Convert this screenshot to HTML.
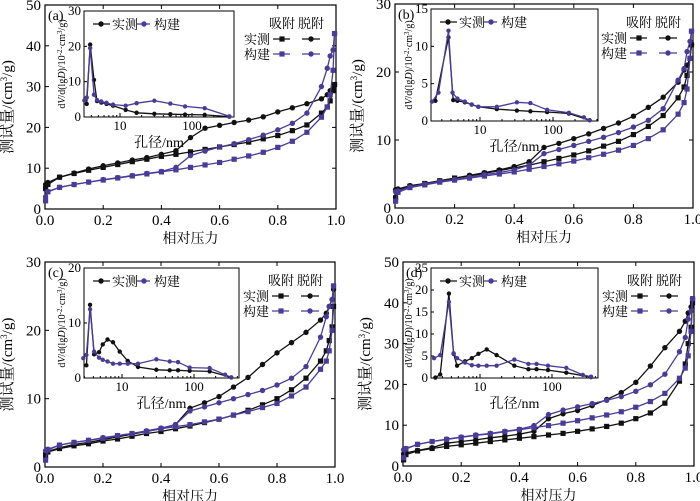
<!DOCTYPE html>
<html><head><meta charset="utf-8"><style>
html,body{margin:0;padding:0;background:#fff;}
svg{display:block;font-family:"Liberation Serif","Noto Serif CJK SC",serif;}
</style></head><body>
<svg id="chart" width="700" height="501" viewBox="0 0 700 501" xmlns="http://www.w3.org/2000/svg"></svg>
<script>
// Relative pressure (shared)
const P = [0.002,0.01,0.05,0.1,0.15,0.2,0.25,0.3,0.35,0.4,0.45,0.5,0.55,0.6,0.65,0.7,0.75,0.8,0.85,0.9,0.95,0.97,0.98,0.99,0.995];
// Panel a
const aMeasAds = [5,6,7.8,8.7,9.5,10.2,10.9,11.6,12.2,12.9,13.4,14,14.6,15.2,15.8,16.4,17.2,18,19.2,20.6,23.5,25,26.5,29,30.5];
const aMeasDes = [6,6.5,7.8,8.8,9.8,10.6,11.3,12,12.6,13.4,14.3,17.5,19.8,20.5,21.2,21.8,22.6,23.8,24.8,25.8,27,28,29,29.5,30.5];
const aConsAds = [2,4.2,5.3,6,6.6,7.1,7.6,8.1,8.6,9.1,9.6,10.2,10.8,11.4,12.2,13,13.9,15.1,16.6,18.8,22.5,25,28,34,43];
const aConsDes = [3,4.3,5.3,6,6.6,7.2,7.7,8.2,8.7,9.2,10.2,13.1,14.2,15.2,16,17,18.1,19.4,21,23.5,30,34.5,37.5,39,43];
const aPsdMeasD = [3.45,3.85,4.35,4.8,5.5,6.5,8,12,17,30,50,80,150,330];
const aPsdMeasV = [3.7,20.5,10.5,4.5,4.1,3.7,3.2,2.0,1.2,0.9,0.8,0.7,0.6,0.1];
const aPsdConsD = [3.2,3.45,3.85,4.35,4.8,5.5,6.5,8,12,17,30,50,80,150,330];
const aPsdConsV = [4.7,5.5,19.5,6.3,4.8,4.4,4.0,3.5,3.2,3.9,4.6,3.8,3.0,2.5,0.2];
// Panel b
const bMeasAds = [1.5,2.6,3.2,3.6,4.0,4.4,4.7,5.1,5.5,5.9,6.3,6.8,7.3,7.8,8.4,9.1,9.8,10.8,12,13.6,16.2,17.8,19.5,22,24];
const bMeasDes = [2.7,2.8,3.3,3.6,4,4.4,4.8,5.2,5.6,6.1,6.8,8.9,9.5,10.2,10.9,11.7,12.5,13.5,14.8,16.3,18.5,20.3,21,22,24];
const bConsAds = [1,2.3,3,3.4,3.8,4.1,4.4,4.7,5,5.3,5.7,6.1,6.5,6.9,7.4,7.9,8.5,9.2,10.2,11.5,13.8,15.5,17.5,22,26];
const bConsDes = [2.4,2.5,3.1,3.5,3.9,4.2,4.5,4.9,5.2,5.6,6.3,8,8.6,9.2,9.8,10.4,11.1,11.9,12.9,14.6,18.8,20.5,23,24.5,26];
const bPsdMeasD = [2.45,3.7,4.3,4.9,6.2,7.7,9.5,17,32,49,83,165,318];
const bPsdMeasV = [2.7,11.2,2.8,2.7,2.5,2.2,1.9,1.6,1.4,1.3,1.2,1.0,0.1];
const bPsdConsD = [2.2,2.7,3.7,4.2,4.9,6.2,7.7,9.5,17,32,49,83,165,265,318];
const bPsdConsV = [2.6,3.8,12.1,3.8,3.0,2.6,2.2,1.9,1.9,2.5,2.4,1.5,1.1,0.5,0.1];
// Panel c
const cMeasAds = [1.5,2.2,2.7,3.1,3.4,3.8,4.1,4.5,4.9,5.2,5.6,6,6.5,7,7.6,8.3,9.1,10,11.3,13,15.5,17,18.5,20.5,23.5];
const cMeasDes = [2,2.3,2.8,3.3,3.6,4,4.4,4.8,5.2,5.6,6.2,8.6,9.4,10.3,11.7,13.1,15,16.7,18.2,19.7,21.5,22.5,23.5,24.5,26];
const cConsAds = [1,2.5,3.2,3.6,3.9,4.2,4.6,4.9,5.2,5.6,5.9,6.2,6.6,7,7.6,8.1,8.7,9.3,10.4,11.7,14.3,15.5,17,20,26.5];
const cConsDes = [2.4,2.6,3.2,3.6,3.9,4.3,4.6,4.9,5.3,5.7,6.2,8.2,8.8,9.4,10,10.6,11.2,12,13,14.7,19,22,23.5,24.5,26.5];
const cPsdMeasD = [3.2,3.6,4.1,4.8,5.4,6.3,7.5,9.3,12,16.7,30,46,60,87,165,330];
const cPsdMeasV = [2.3,13.3,4.3,4.7,6.1,7.0,6.5,4.8,3.1,2.0,1.5,1.4,1.4,1.3,1.2,0.1];
const cPsdConsD = [2.9,3.2,3.6,4.1,4.8,5.4,6.3,7.5,9.3,12,16.7,30,46,60,87,165,270,330];
const cPsdConsV = [3.6,4.2,12.5,4.8,3.7,3.3,3.0,2.6,2.6,2.6,2.6,3.4,3.0,2.9,1.9,1.8,0.6,0.1];
// Panel d
const dMeasAds = [1.5,2.8,3.7,4.3,4.8,5.2,5.6,6,6.4,6.8,7.2,7.6,8,8.5,9.1,9.7,10.5,11.6,13,15.4,20.8,25,30,34,40];
const dMeasDes = [3,3.2,3.8,4.5,5.6,6,6.4,6.9,7.3,7.8,8.5,11.6,12.8,13.6,14.8,16.3,18,20.5,24.5,29,33,35.5,37.5,39,41];
const dConsAds = [2,4.2,5.3,6,6.5,7,7.5,7.9,8.4,8.9,9.4,9.9,10.5,11.1,11.8,12.5,13.3,14.4,15.8,17.8,21.5,24,27,33,41];
const dConsDes = [4,4.3,5.3,6,6.6,7.1,7.6,8,8.5,9,9.9,12.6,13.7,14.5,15.3,16.1,17,18.3,19.9,22.5,28,31.5,36,38,41];
const dPsdMeasD = [2.4,2.8,3.7,4.3,4.8,6.2,7.7,9.5,12.4,17,30,47,61,88,158,348];
const dPsdMeasV = [0.1,0.8,19.2,5.5,2.8,3.8,4.5,5.5,6.5,5.2,2.8,2.0,2.0,1.8,1.2,0.2];
const dPsdConsD = [2.3,2.8,3.7,4.3,4.8,6.2,7.7,9.5,12.4,17,30,47,61,88,158,268,348];
const dPsdConsV = [4.5,5.2,17.3,5.6,4.5,3.5,2.9,2.8,2.8,2.8,4.2,3.2,3.2,2.8,2.3,0.7,0.3];
// Axis ranges
const mainYMax = [50,30,30,50];
const insetYMax = [30,15,20,25];
const insetYStep = [10,5,10,5];
const insetXTicks = [10,100];
const panelTags = ["(a)","(b)","(c)","(d)"];

const NS="http://www.w3.org/2000/svg";
const svg=document.getElementById('chart');
const BLK="#111", PUR="#4b3b98";
function mk(tag,attrs,parent,text){const e=document.createElementNS(NS,tag);for(const k in attrs)e.setAttribute(k,attrs[k]);if(text!==undefined)e.textContent=text;(parent||svg).appendChild(e);return e;}

const geo=[
 {x0:45,x1:336,yt:5,yb:209,ins:{l:84,r:234,t:11,b:117,x10:120,dec:72}},
 {x0:395,x1:693,yt:4,yb:208,ins:{l:431,r:598,t:9,b:121,x10:480,dec:73}},
 {x0:45,x1:335,yt:262,yb:467,ins:{l:84,r:239,t:268,b:378,x10:122,dec:72}},
 {x0:403,x1:694,yt:262,yb:466,ins:{l:431,r:598,t:268,b:378,x10:480,dec:72}}
];
const mainData=[[aMeasAds,aMeasDes,aConsAds,aConsDes],[bMeasAds,bMeasDes,bConsAds,bConsDes],[cMeasAds,cMeasDes,cConsAds,cConsDes],[dMeasAds,dMeasDes,dConsAds,dConsDes]];
const psdData=[[aPsdMeasD,aPsdMeasV,aPsdConsD,aPsdConsV],[bPsdMeasD,bPsdMeasV,bPsdConsD,bPsdConsV],[cPsdMeasD,cPsdMeasV,cPsdConsD,cPsdConsV],[dPsdMeasD,dPsdMeasV,dPsdConsD,dPsdConsV]];
const names=["a","b","c","d"];

function marker(g,x,y,shape,color,s){
  let m;
  if(shape==='sq'){m=mk('rect',{x:x-s,y:y-s,width:2*s,height:2*s,fill:color},g);}
  else{m=mk('circle',{cx:x,cy:y,r:s,fill:color},g);}
  
  
}
function series(g,xs,ys,fx,fy,color,shape,s,name){
  const pts=xs.map((x,i)=>fx(x).toFixed(1)+','+fy(ys[i]).toFixed(1)).join(' ');
  const pl=mk('polyline',{points:pts,fill:'none',stroke:color,'stroke-width':1.3},g);
  
  
  xs.forEach((x,i)=>marker(g,fx(x),fy(ys[i]),shape,color,s));
}

geo.forEach((G,pi)=>{
  const n=names[pi];
  const g=mk('g',{});
  
  
  const ymax=mainYMax[pi];
  const fx=p=>G.x0+(G.x1-G.x0)*p;
  const fy=v=>G.yb-(G.yb-G.yt)*v/ymax;
  const box=mk('rect',{x:G.x0,y:G.yt,width:G.x1-G.x0,height:G.yb-G.yt,fill:'none',stroke:'#000','stroke-width':1.2},g);
  
  
  for(let v=0;v<=ymax;v+=10){
    const y=fy(v);
    mk('line',{x1:G.x0,y1:y,x2:G.x0+4,y2:y,stroke:'#000'},g);
    mk('line',{x1:G.x1,y1:y,x2:G.x1-4,y2:y,stroke:'#000'},g);
    const t=mk('text',{x:G.x0-4,y:y+5,'text-anchor':'end','font-size':15},g,String(v));
    
    
  }
  for(let i=0;i<=5;i++){
    const p=i*0.2,x=fx(p);
    mk('line',{x1:x,y1:G.yb,x2:x,y2:G.yb-4,stroke:'#000'},g);
    mk('line',{x1:x,y1:G.yt,x2:x,y2:G.yt+4,stroke:'#000'},g);
    const t=mk('text',{x:x,y:G.yb+16,'text-anchor':'middle','font-size':15},g,p.toFixed(1));
    
    
  }
  const xl=mk('text',{x:(G.x0+G.x1)/2,y:G.yb+34,'text-anchor':'middle','font-size':14},g,'相对压力');
  
  
  const cy=(G.yt+G.yb)/2, lx=G.x0-33;
  const yl=mk('text',{x:lx,y:cy,'text-anchor':'middle','font-size':15,transform:`rotate(-90 ${lx} ${cy})`},g);
  
  
  yl.innerHTML='测试量/(cm<tspan dy="-5" font-size="9">3</tspan><tspan dy="5">/g)</tspan>';
  const tag=mk('text',{x:G.x0+3,y:G.yt+15,'font-size':14},g,panelTags[pi]);
  
  
  const D=mainData[pi];
  series(g,P,D[0],fx,fy,BLK,'sq',2.6,'measured-adsorption');
  series(g,P,D[1],fx,fy,BLK,'ci',2.7,'measured-desorption');
  series(g,P,D[2],fx,fy,PUR,'sq',2.6,'constructed-adsorption');
  series(g,P,D[3],fx,fy,PUR,'ci',2.7,'constructed-desorption');
  const lg=mk('g',{},g);
  
  
  mk('text',{x:G.x1-54,y:G.yt+23,'text-anchor':'middle','font-size':13},lg,'吸附');
  mk('text',{x:G.x1-25,y:G.yt+23,'text-anchor':'middle','font-size':13},lg,'脱附');
  [[BLK,'实测',G.yt+34],[PUR,'构建',G.yt+49]].forEach(([c,lbl,y])=>{
    mk('text',{x:G.x1-66,y:y+5,'text-anchor':'end','font-size':13},lg,lbl);
    mk('line',{x1:G.x1-63,y1:y,x2:G.x1-46,y2:y,stroke:c,'stroke-width':1.3},lg);
    marker(lg,G.x1-54,y,'sq',c,2.6);
    mk('line',{x1:G.x1-34,y1:y,x2:G.x1-16,y2:y,stroke:c,'stroke-width':1.3},lg);
    marker(lg,G.x1-25,y,'ci',c,2.7);
  });
  const I=G.ins, iy=insetYMax[pi];
  const ig=mk('g',{},g);
  
  
  mk('rect',{x:I.l,y:I.t,width:I.r-I.l,height:I.b-I.t,fill:'#fff',stroke:'#000','stroke-width':1},ig);
  const ix=d=>I.x10+I.dec*(Math.log10(d)-1);
  const iyf=v=>I.b-(I.b-I.t)*v/iy;
  for(let v=0;v<=iy;v+=insetYStep[pi]){
    const y=iyf(v);
    mk('line',{x1:I.l,y1:y,x2:I.l+3,y2:y,stroke:'#000'},ig);
    const t=mk('text',{x:I.l-3,y:y+4,'text-anchor':'end','font-size':13},ig,String(v));
    
    
  }
  for(let dd=2;dd<=500;dd++){
    const dec=Math.pow(10,Math.floor(Math.log10(dd)));
    if(dd%dec!==0)continue;
    const x=ix(dd); if(x<I.l||x>I.r)continue;
    const major=insetXTicks.includes(dd);
    mk('line',{x1:x,y1:I.b,x2:x,y2:I.b-(major?4:2),stroke:'#000'},ig);
  }
  insetXTicks.forEach(v=>{
    const t=mk('text',{x:ix(v),y:I.b+13,'text-anchor':'middle','font-size':13},ig,String(v));
    
    
  });
  const ixl=mk('text',{x:(I.l+I.r)/2,y:I.b+30,'text-anchor':'middle','font-size':14},ig,'孔径/nm');
  
  
  const icy=(I.t+I.b)/2, ilx=I.l-19;
  const iyl=mk('text',{x:ilx,y:icy,'text-anchor':'middle','font-size':10,transform:`rotate(-90 ${ilx} ${icy})`},ig);
  
  
  iyl.innerHTML='d<tspan font-style="italic">V</tspan>/d(lg<tspan font-style="italic">D</tspan>)/10<tspan dy="-3" font-size="7">-2</tspan><tspan dy="3">·cm</tspan><tspan dy="-3" font-size="7">3</tspan><tspan dy="3">/g)</tspan>';
  const PD=psdData[pi];
  series(ig,PD[0],PD[1],ix,iyf,BLK,'ci',2.2,'psd-measured');
  series(ig,PD[2],PD[3],ix,iyf,PUR,'ci',2.2,'psd-constructed');
  const il=mk('g',{},ig);
  
  
  const ly=I.t+13;
  mk('line',{x1:I.l+9,y1:ly,x2:I.l+26,y2:ly,stroke:BLK,'stroke-width':1.3},il);
  marker(il,I.l+17,ly,'ci',BLK,2.7);
  mk('text',{x:I.l+28,y:ly+5,'font-size':13},il,'实测');
  mk('line',{x1:I.l+53,y1:ly,x2:I.l+66,y2:ly,stroke:PUR,'stroke-width':1.3},il);
  marker(il,I.l+60,ly,'ci',PUR,2.7);
  mk('text',{x:I.l+70,y:ly+5,'font-size':13},il,'构建');
});
</script>
</body></html>
